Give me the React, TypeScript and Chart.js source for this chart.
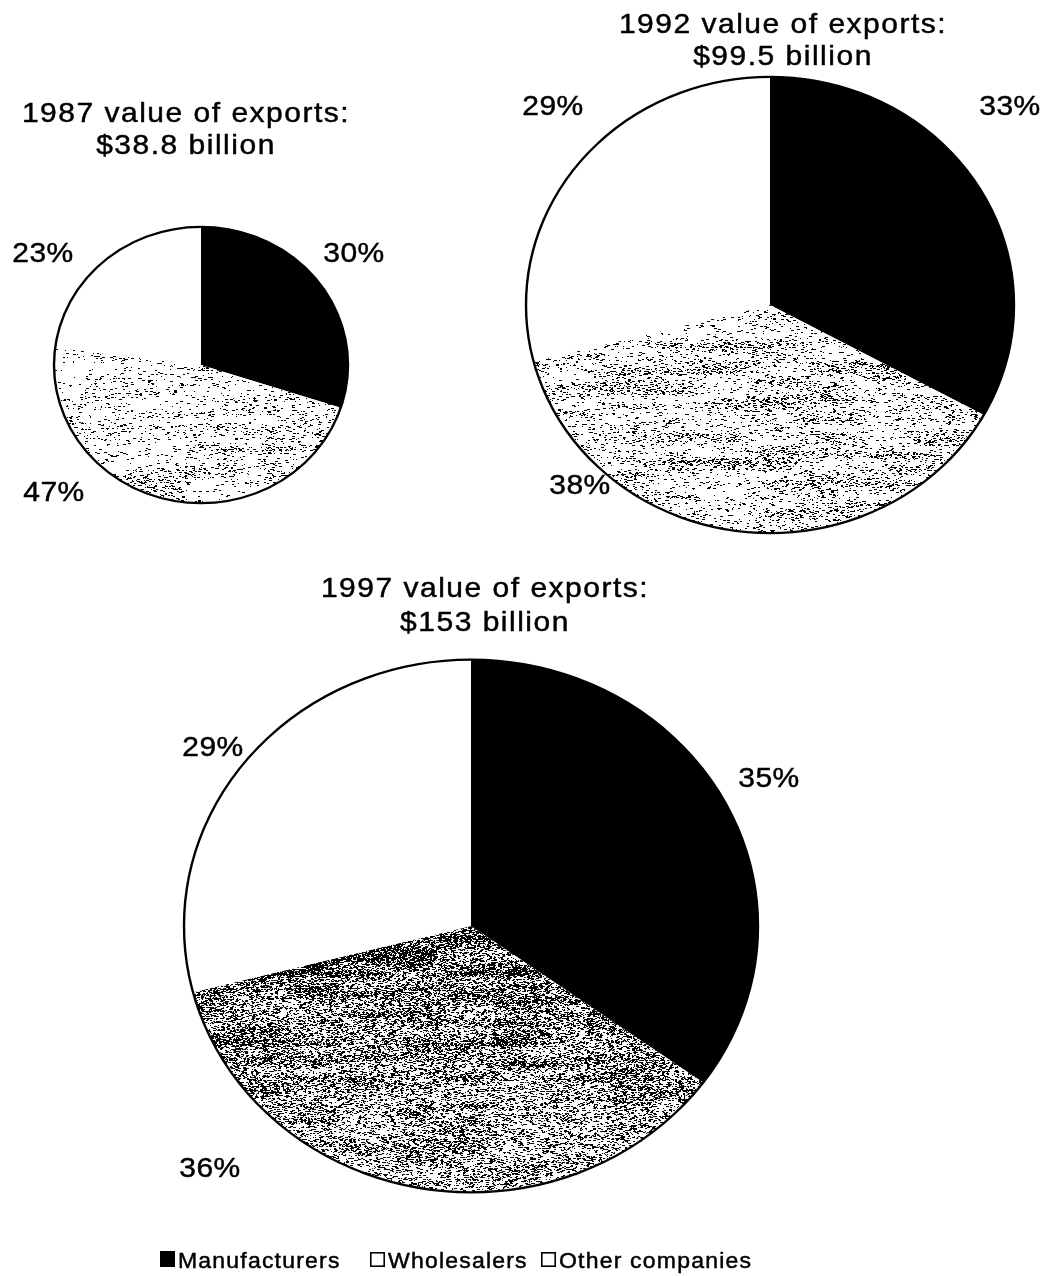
import React, { useEffect, useRef } from "react";
import { Chart, registerables } from "chart.js";

Chart.register(...registerables);

// Value of exports by type of exporting company, shares in percent
const categories = ["Manufacturers", "Wholesalers", "Other companies"];
const years = ["1987", "1992", "1997"];
const exportTotals = [38.8, 99.5, 153]; // billions of dollars
const manufacturers = [30, 33, 35];
const wholesalers = [47, 38, 36];
const otherCompanies = [23, 29, 29];

const W = 1051;
const H = 1276;
const FONT = '"Liberation Sans", Arial, Helvetica, sans-serif';
const TEXT_SQ = 0.93;

type Speckle = { coverage: number; seed: number; top: number; bottom: number; clump: number };
type PieLayout = {
  cx: number;
  cy: number;
  r: number;
  sq: number;
  titleX: number;
  titleY: [number, number];
  labelPos: [number, number][];
  speckle: Speckle;
};

const PIE_LAYOUT: PieLayout[] = [
  {
    cx: 201, cy: 365, r: 147, sq: 0.94,
    titleX: 186, titleY: [122, 154],
    labelPos: [[354, 262], [54, 501], [43, 262]],
    speckle: { coverage: 0.1, seed: 1987, top: 0.7, bottom: 1.3, clump: 0.9 },
  },
  {
    cx: 770, cy: 305, r: 244, sq: 0.935,
    titleX: 783, titleY: [33, 65],
    labelPos: [[1010, 115], [580, 494], [553, 115]],
    speckle: { coverage: 0.15, seed: 1992, top: 1.0, bottom: 1.2, clump: 0.85 },
  },
  {
    cx: 471, cy: 926, r: 287, sq: 0.928,
    titleX: 485, titleY: [597, 631],
    labelPos: [[769, 787], [210, 1177], [213, 756]],
    speckle: { coverage: 0.42, seed: 1997, top: 1.4, bottom: 0.7, clump: 0.4 },
  },
];

const LEGEND = { baseline: 1268, boxTop: 1251, box: 15, xs: [160, 370, 541], textGap: 18 };

function mulberry32(seed: number) {
  let s = seed >>> 0;
  return () => {
    s = (s + 0x6d2b79f5) | 0;
    let t = Math.imul(s ^ (s >>> 15), 1 | s);
    t = (t + Math.imul(t ^ (t >>> 7), 61 | t)) ^ t;
    return ((t ^ (t >>> 14)) >>> 0) / 4294967296;
  };
}

// Grainy halftone-like fill: short horizontal black streaks with uneven density
function makeSpeckle(L: PieLayout): HTMLCanvasElement {
  const { coverage, seed, top, bottom, clump } = L.speckle;
  const rnd = mulberry32(seed);
  const cw = 52;
  const ch = 7;
  const gw = Math.ceil(W / cw) + 2;
  const gh = Math.ceil(H / ch) + 2;
  const grid = new Float32Array(gw * gh);
  for (let i = 0; i < grid.length; i++) grid[i] = rnd();
  const smooth = (t: number) => t * t * (3 - 2 * t);
  const noise = (x: number, y: number) => {
    const gx = x / cw;
    const gy = y / ch;
    const ix = Math.floor(gx);
    const iy = Math.floor(gy);
    const fx = smooth(gx - ix);
    const fy = smooth(gy - iy);
    const a = grid[iy * gw + ix];
    const b = grid[iy * gw + ix + 1];
    const c = grid[(iy + 1) * gw + ix];
    const d = grid[(iy + 1) * gw + ix + 1];
    return a + (b - a) * fx + (c - a) * fy + (a - b - c + d) * fx * fy;
  };
  const cv = document.createElement("canvas");
  cv.width = W;
  cv.height = H;
  const g = cv.getContext("2d")!;
  const img = g.createImageData(W, H);
  const px = img.data;
  px.fill(255);
  const ry = L.r * L.sq;
  const x0 = Math.max(0, Math.floor(L.cx - L.r - 4));
  const x1 = Math.min(W, Math.ceil(L.cx + L.r + 4));
  const y0 = Math.max(0, Math.floor(L.cy - ry * 0.3));
  const y1 = Math.min(H, Math.ceil(L.cy + ry + 4));
  for (let y = y0; y < y1; y++) {
    const t = Math.min(1, Math.max(0, (y - L.cy) / ry));
    const shade = top + (bottom - top) * t;
    let x = x0;
    while (x < x1) {
      const n = noise(x, y);
      const f = 1 - clump + clump * (0.2 + 2.4 * n * n);
      const c = Math.min(0.9, coverage * shade * f);
      const p = c / (2 - c);
      if (rnd() < p) {
        const len = 1 + Math.floor(rnd() * 3);
        for (let k = 0; k < len && x + k < x1; k++) {
          const idx = (y * W + x + k) * 4;
          px[idx] = 0;
          px[idx + 1] = 0;
          px[idx + 2] = 0;
        }
        x += len;
      } else {
        x++;
      }
    }
  }
  g.putImageData(img, 0, 0);
  return cv;
}

function drawText(
  ctx: CanvasRenderingContext2D,
  text: string,
  x: number,
  y: number,
  size: number,
  spacing: number,
  align: CanvasTextAlign = "center"
) {
  ctx.save();
  ctx.translate(x, y);
  ctx.scale(1, TEXT_SQ);
  ctx.font = `${size}px ${FONT}`;
  (ctx as any).letterSpacing = `${spacing}px`;
  ctx.textAlign = align;
  ctx.textBaseline = "alphabetic";
  ctx.fillStyle = "#000";
  ctx.strokeStyle = "#000";
  ctx.lineWidth = 0.5;
  ctx.fillText(text, 0, 0);
  ctx.strokeText(text, 0, 0);
  ctx.restore();
}

function PieCanvas({ index }: { index: number }) {
  const ref = useRef<HTMLCanvasElement>(null);

  useEffect(() => {
    const canvas = ref.current!;
    const L = PIE_LAYOUT[index];
    const values = [manufacturers[index], wholesalers[index], otherCompanies[index]];

    const ctx0 = canvas.getContext("2d")!;
    const pattern = ctx0.createPattern(makeSpeckle(L), "repeat")!;
    // keep the grain pixel-aligned while the pie itself is drawn flattened
    pattern.setTransform(new DOMMatrix().translate(0, L.cy).scale(1, 1 / L.sq).translate(0, -L.cy));

    const ovalPie = {
      id: "ovalPie",
      beforeDatasetsDraw(chart: any) {
        const ctx = chart.ctx as CanvasRenderingContext2D;
        const arc = chart.getDatasetMeta(0).data[0];
        ctx.save();
        ctx.translate(0, arc.y);
        ctx.scale(1, L.sq);
        ctx.translate(0, -arc.y);
      },
      afterDatasetsDraw(chart: any) {
        const ctx = chart.ctx as CanvasRenderingContext2D;
        const arc = chart.getDatasetMeta(0).data[0];
        ctx.beginPath();
        ctx.arc(arc.x, arc.y, arc.outerRadius, 0, Math.PI * 2);
        ctx.lineWidth = 2.4;
        ctx.strokeStyle = "#000";
        ctx.stroke();
        ctx.restore();
      },
    };

    const annotations = {
      id: "annotations",
      afterDraw(chart: any) {
        const ctx = chart.ctx as CanvasRenderingContext2D;
        drawText(ctx, `${years[index]} value of exports:`, L.titleX, L.titleY[0], 30, 1.5);
        drawText(ctx, `$${exportTotals[index]} billion`, L.titleX, L.titleY[1], 30, 1.5);
        values.forEach((v, i) => {
          const [x, y] = L.labelPos[i];
          drawText(ctx, `${v}%`, x, y, 30, 0.5);
        });
        if (index === PIE_LAYOUT.length - 1) {
          categories.forEach((name, i) => {
            const bx = LEGEND.xs[i];
            const s = LEGEND.box;
            ctx.save();
            if (i === 0) {
              ctx.fillStyle = "#000";
              ctx.fillRect(bx, LEGEND.boxTop, s, s + 1);
            } else {
              ctx.fillStyle = "#fff";
              ctx.fillRect(bx, LEGEND.boxTop + 1, s, s);
              ctx.lineWidth = 1.6;
              ctx.strokeStyle = "#000";
              ctx.strokeRect(bx + 0.8, LEGEND.boxTop + 1.8, s - 1.6, s - 1.6);
            }
            ctx.restore();
            drawText(ctx, name, bx + LEGEND.textGap, LEGEND.baseline, 23, 1.2, "left");
          });
        }
      },
    };

    const chart = new Chart(canvas, {
      type: "pie",
      data: {
        labels: categories,
        datasets: [
          {
            data: values,
            backgroundColor: ["#000000", pattern as any, "#ffffff"],
            borderWidth: 0,
            radius: L.r,
          } as any,
        ],
      },
      options: {
        responsive: false,
        animation: false,
        events: [],
        layout: {
          padding: {
            left: L.cx - L.r,
            right: W - L.cx - L.r,
            top: L.cy - L.r,
            bottom: H - L.cy - L.r,
          },
        },
        plugins: {
          legend: { display: false },
          tooltip: { enabled: false },
          title: { display: false },
        },
      },
      plugins: [ovalPie, annotations],
    });

    return () => chart.destroy();
  }, [index]);

  return (
    <canvas
      ref={ref}
      width={W}
      height={H}
      style={{ position: "absolute", left: 0, top: 0, width: W, height: H }}
    />
  );
}

export default function App() {
  return (
    <div style={{ position: "absolute", left: 0, top: 0, width: W, height: H, background: "#fff" }}>
      {PIE_LAYOUT.map((_, i) => (
        <PieCanvas key={years[i]} index={i} />
      ))}
    </div>
  );
}
